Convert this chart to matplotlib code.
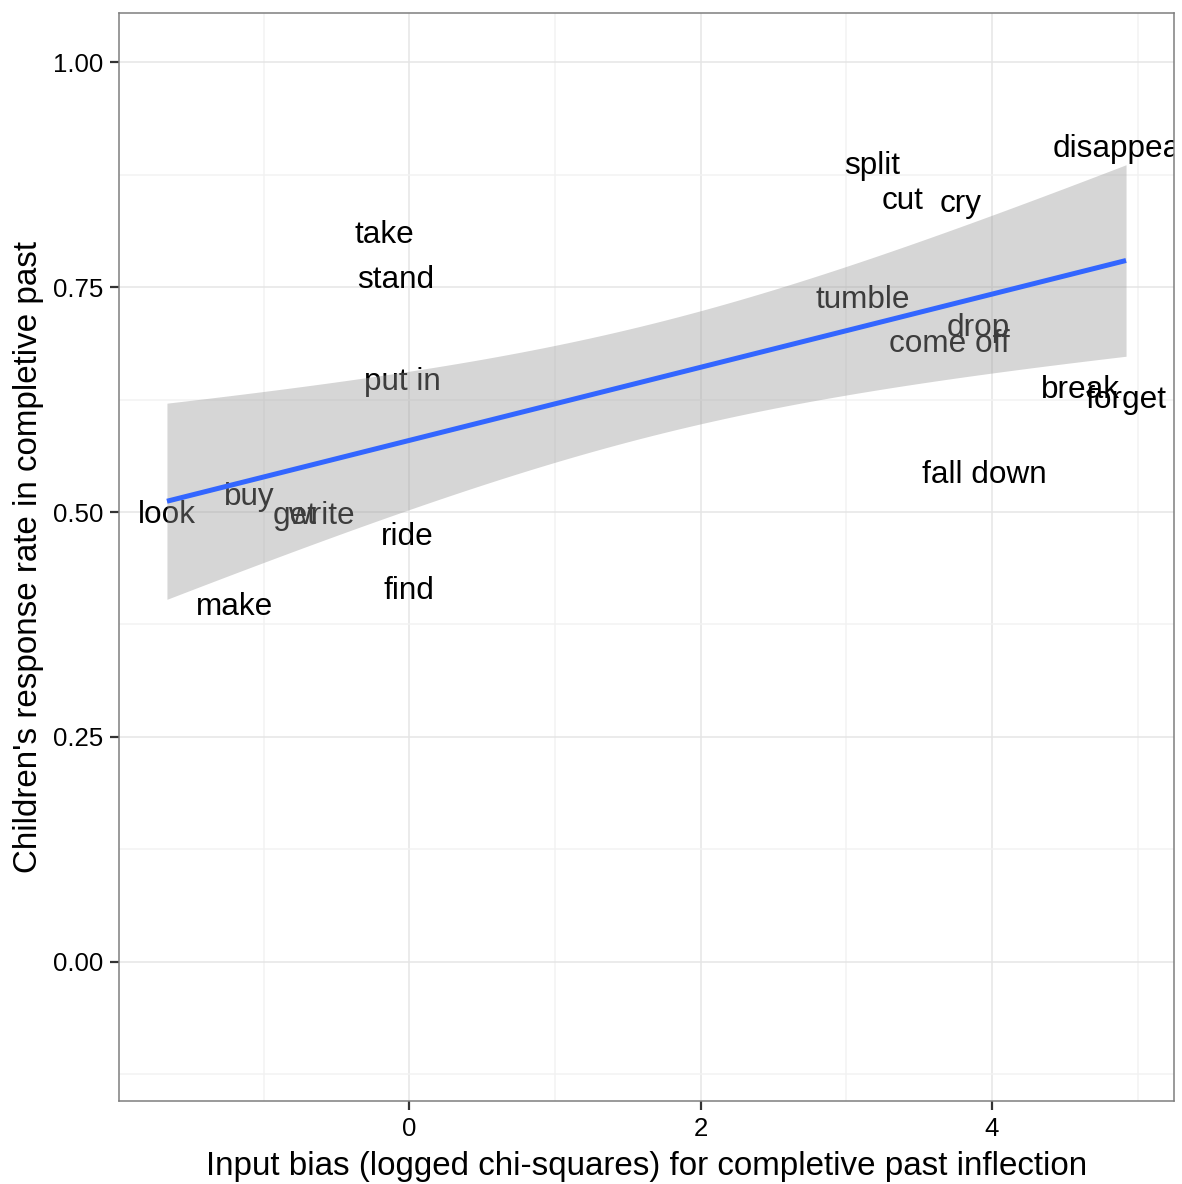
import matplotlib
matplotlib.use("Agg")
import matplotlib.pyplot as plt
import matplotlib.transforms as mtransforms
import numpy as np

# Verbs, their input bias (logged chi-squares) and children's response rate
verbs = ["look", "buy", "get", "write", "make", "take", "stand", "put in", "ride", "find",
         "split", "cut", "cry", "disappear", "tumble", "drop", "come off", "break", "forget",
         "fall down"]
bias = [-1.664, -1.099, -0.788, -0.606, -1.202, -0.168, -0.092, -0.048, -0.017, 0.0,
        3.180, 3.384, 3.784, 4.890, 3.113, 3.904, 3.705, 4.610, 4.921, 3.949]
rate = [0.500, 0.520, 0.499, 0.499, 0.398, 0.811, 0.761, 0.648, 0.476, 0.416,
        0.888, 0.849, 0.846, 0.907, 0.739, 0.708, 0.690, 0.639, 0.628, 0.544]

x_ticks = [0, 2, 4]
y_ticks = [0.00, 0.25, 0.50, 0.75, 1.00]

FONT = ["Liberation Sans", "DejaVu Sans"]
plt.rcParams["font.family"] = FONT

x = np.asarray(bias, dtype=float)
y = np.asarray(rate, dtype=float)

# linear fit with 95% confidence band (like geom_smooth(method = "lm"))
n = len(x)
slope, intercept = np.polyfit(x, y, 1)
resid = y - (intercept + slope * x)
s = np.sqrt(np.sum(resid ** 2) / (n - 2))
xm = x.mean()
sxx = np.sum((x - xm) ** 2)
t_crit = 2.100922  # t(0.975, df = 18)
xs = np.linspace(x.min(), x.max(), 80)
fit = intercept + slope * xs
se = s * np.sqrt(1.0 / n + (xs - xm) ** 2 / sxx)

fig = plt.figure(figsize=(11.82, 11.84), dpi=100)
ax = fig.add_axes([119 / 1182, 83 / 1184, (1174 - 119) / 1182, (1101 - 13) / 1184])

# ggplot centres text on its ascent, matplotlib on the full box: nudge down a bit
text_tr = mtransforms.offset_copy(ax.transData, fig=fig, x=0, y=-3, units="dots")
for v, xi, yi in zip(verbs, x, y):
    ax.text(xi, yi, v, ha="center", va="center", fontsize=22.7, color="black",
            zorder=2, clip_on=True, transform=text_tr)

ax.fill_between(xs, fit - t_crit * se, fit + t_crit * se, color="#999999", alpha=0.4,
                linewidth=0, zorder=3)
ax.plot(xs, fit, color="#3366FF", linewidth=3.6, zorder=4, solid_capstyle="butt")

xr = x.max() - x.min()
ax.set_xlim(x.min() - 0.05 * xr, x.max() + 0.05 * xr)
ax.set_ylim(-0.1 - 0.055, 1.0 + 0.055)

ax.set_xticks(x_ticks)
ax.set_xticklabels([str(t) for t in x_ticks])
ax.set_yticks(y_ticks)
ax.set_yticklabels([f"{t:.2f}" for t in y_ticks])
ax.set_xticks([-1, 1, 3, 5], minor=True)
ax.set_yticks([-0.125, 0.125, 0.375, 0.625, 0.875], minor=True)

ax.grid(True, which="major", color="#e5e5e5", linewidth=1.1, zorder=0)
ax.grid(True, which="minor", color="#f2f2f2", linewidth=1.1, zorder=0)
ax.set_axisbelow(True)

ax.tick_params(axis="both", which="major", length=6.5, width=1.6, color="#333333",
               labelsize=18.6, labelcolor="black", pad=5)
ax.tick_params(axis="both", which="minor", length=0)
for sp in ax.spines.values():
    sp.set_color("#7f7f7f")
    sp.set_linewidth(1.1)

ax.set_xlabel("Input bias (logged chi-squares) for completive past inflection",
              fontsize=23.9, labelpad=7)
ax.set_ylabel("Children's response rate in completive past", fontsize=23.9, labelpad=6)

fig.savefig("out.png", dpi=100)
